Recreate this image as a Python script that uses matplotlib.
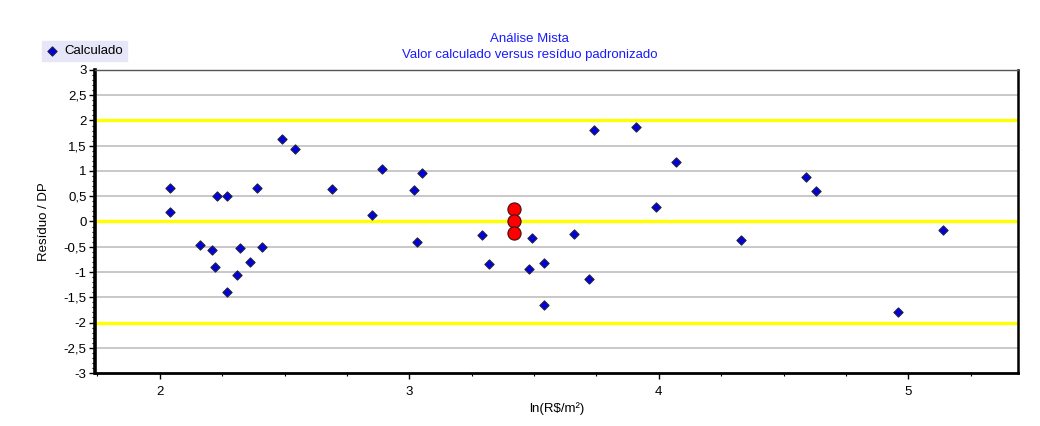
import matplotlib
matplotlib.use("Agg")
import matplotlib.pyplot as plt
from matplotlib.ticker import MultipleLocator, FuncFormatter

plt.rcParams['font.family'] = ['Liberation Sans', 'DejaVu Sans']

# Calculated value (ln R$/m²) and standardized residual
calc_x = [2.04, 2.04, 2.16, 2.21, 2.22, 2.23, 2.27, 2.27, 2.31, 2.32,
          2.36, 2.39, 2.41, 2.49, 2.54, 2.69, 2.85, 2.89, 3.02, 3.03,
          3.05, 3.29, 3.32, 3.48, 3.49, 3.54, 3.54, 3.66, 3.72, 3.74,
          3.91, 3.99, 4.07, 4.33, 4.59, 4.63, 4.96, 5.14]
calc_y = [0.67, 0.19, -0.46, -0.56, -0.91, 0.51, 0.51, -1.40, -1.06, -0.53,
          -0.80, 0.67, -0.51, 1.63, 1.44, 0.64, 0.12, 1.03, 0.62, -0.41,
          0.97, -0.27, -0.85, -0.95, -0.32, -0.83, -1.65, -0.25, -1.14, 1.81,
          1.88, 0.28, 1.18, -0.37, 0.89, 0.60, -1.79, -0.17]

# Highlighted observations
mark_x = [3.42, 3.42, 3.42]
mark_y = [0.24, 0.00, -0.22]

y_grid = [-2.5, -1.5, -1, -0.5, 0.5, 1, 1.5, 2.5]
y_limits = [-2, 0, 2]

fs = 9.5

fig = plt.figure(figsize=(10.4, 4.26), dpi=100)
ax = fig.add_axes([0.0913, 0.1244, 0.8877, 0.7113])

for g in y_grid:
    ax.axhline(g, color='#c8c8c8', lw=1.4, zorder=1)
for g in y_limits:
    ax.axhline(g, color='#ffff00', lw=2.4, zorder=1)

ax.scatter(calc_x, calc_y, marker='D', s=22, c='#0000e0', edgecolors='#202040',
           linewidths=0.8, zorder=3, label='Calculado')
ax.scatter(mark_x, mark_y, marker='o', s=90, c='#ff0000', edgecolors='#401010',
           linewidths=0.8, zorder=4)

ax.set_xlim(1.74, 5.44)
ax.set_ylim(-3, 3)
ax.xaxis.set_major_locator(MultipleLocator(1))
ax.xaxis.set_minor_locator(MultipleLocator(0.25))
ax.yaxis.set_major_locator(MultipleLocator(0.5))
ax.yaxis.set_minor_locator(MultipleLocator(0.1))

def comma_fmt(v, pos):
    s = f"{v:g}"
    if s == "-0":
        s = "0"
    return s.replace('.', ',')

ax.yaxis.set_major_formatter(FuncFormatter(comma_fmt))
ax.xaxis.set_major_formatter(FuncFormatter(comma_fmt))

ax.tick_params(axis='both', which='major', direction='out', length=4, width=1,
               labelsize=fs, colors='black')
ax.tick_params(axis='both', which='minor', direction='out', length=2, width=0.8)
ax.tick_params(axis='x', pad=5)
ax.tick_params(axis='y', pad=2)

ax.spines['left'].set_linewidth(2.6)
ax.spines['bottom'].set_linewidth(2.0)
ax.spines['right'].set_linewidth(1.8)
ax.spines['top'].set_linewidth(1.0)
ax.spines['top'].set_color('#555555')

ax.set_xlabel(r"ln(R\$/m²)", fontsize=fs, labelpad=3)
ax.set_ylabel("Resíduo / DP", fontsize=fs, labelpad=10)

fig.text(0.509, 0.908, "Análise Mista", ha='center', va='center',
         fontsize=fs, color='#1a1aff')
fig.text(0.509, 0.870, "Valor calculado versus resíduo padronizado",
         ha='center', va='center', fontsize=fs, color='#1a1aff')

leg = fig.legend(loc='upper left', bbox_to_anchor=(0.040, 0.904), fontsize=fs,
                 frameon=True, fancybox=False, handletextpad=0.4,
                 borderpad=0.3, handlelength=1.0, borderaxespad=0)
leg.get_frame().set_facecolor('#e6e6f8')
leg.get_frame().set_edgecolor('#e6e6f8')
leg.get_frame().set_alpha(1)

fig.savefig("out.png", dpi=100)
